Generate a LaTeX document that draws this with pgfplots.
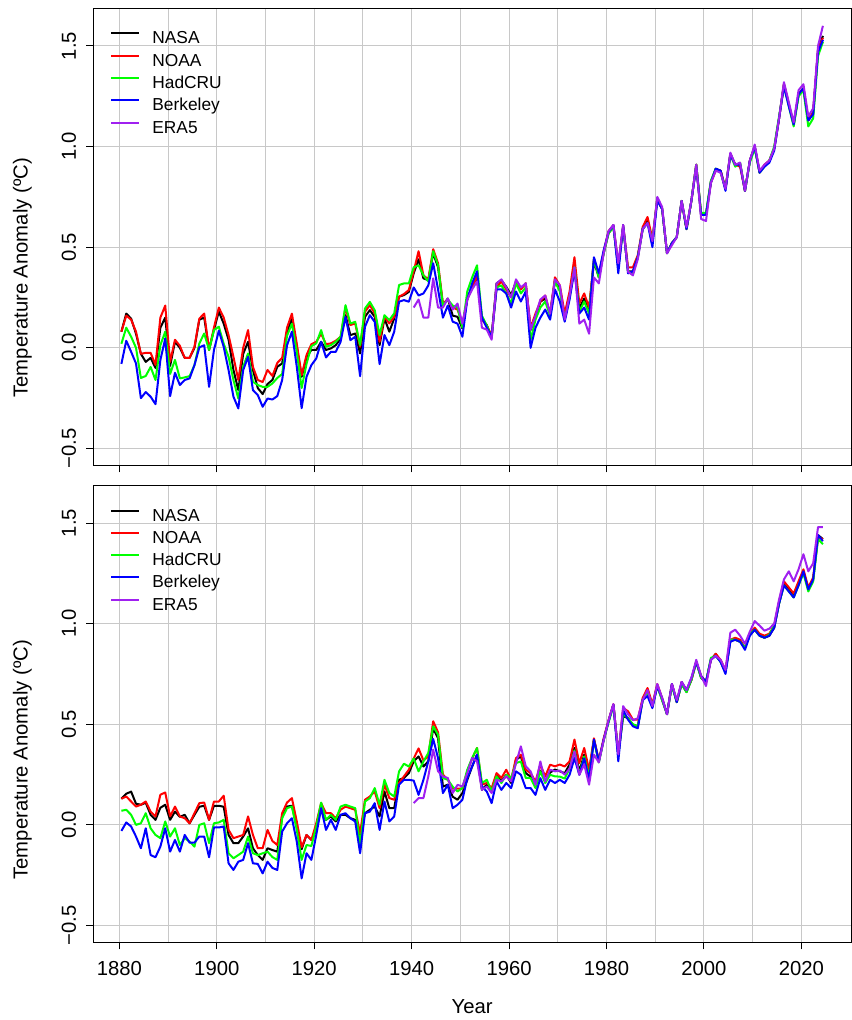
\documentclass[border=0pt]{standalone}
\usepackage{fontspec}
\setmainfont{Liberation Sans}
\usepackage{pgfplots}
\usepackage{pgfplotstable}
\pgfplotsset{compat=1.18}

\pgfplotstableread{
yr nasa noaa had berk era
1880 0.08 0.08 0.02 -0.08 nan
1881 0.17 0.16 0.10 0.035 nan
1882 0.145 0.14 0.055 -0.02 nan
1883 0.07 0.08 0.00 -0.078 nan
1884 -0.03 -0.03 -0.15 -0.25 nan
1885 -0.07 -0.025 -0.14 -0.22 nan
1886 -0.05 -0.025 -0.095 -0.243 nan
1887 -0.10 -0.085 -0.16 -0.28 nan
1888 0.10 0.15 0.013 -0.061 nan
1889 0.15 0.21 0.08 0.046 nan
1890 -0.09 -0.07 -0.13 -0.24 nan
1891 0.03 0.04 -0.06 -0.124 nan
1892 0.00 0.01 -0.152 -0.185 nan
1893 -0.05 -0.05 -0.147 -0.16 nan
1894 -0.05 -0.05 -0.141 -0.152 nan
1895 0.00 0.005 -0.086 -0.086 nan
1896 0.14 0.145 0.022 0.002 nan
1897 0.15 0.17 0.071 0.013 nan
1898 -0.01 -0.01 -0.011 -0.194 nan
1899 0.09 0.10 0.088 -0.011 nan
1900 0.18 0.20 0.105 0.085 nan
1901 0.12 0.15 0.02 0.005 nan
1902 0.04 0.063 -0.045 -0.111 nan
1903 -0.11 -0.045 -0.16 -0.243 nan
1904 -0.21 -0.16 -0.252 -0.301 nan
1905 -0.03 0.00 -0.094 -0.111 nan
1906 0.03 0.088 -0.028 -0.045 nan
1907 -0.11 -0.095 -0.169 -0.21 nan
1908 -0.20 -0.16 -0.185 -0.235 nan
1909 -0.23 -0.17 -0.194 -0.293 nan
1910 -0.18 -0.11 -0.194 -0.252 nan
1911 -0.16 -0.14 -0.177 -0.257 nan
1912 -0.094 -0.075 -0.15 -0.24 nan
1913 -0.078 -0.05 -0.13 -0.16 nan
1914 0.08 0.10 0.06 0.013 nan
1915 0.146 0.17 0.12 0.08 nan
1916 0.005 0.02 -0.02 -0.094 nan
1917 -0.144 -0.136 -0.20 -0.30 nan
1918 -0.05 -0.036 -0.08 -0.144 nan
1919 -0.01 0.018 0.008 -0.086 nan
1920 -0.011 0.03 0.022 -0.053 nan
1921 0.03 0.07 0.088 0.03 nan
1922 -0.011 0.018 0.005 -0.048 nan
1923 -0.003 0.022 0.013 -0.02 nan
1924 0.013 0.035 0.03 -0.02 nan
1925 0.046 0.055 0.055 0.03 nan
1926 0.162 0.20 0.212 0.154 nan
1927 0.063 0.113 0.121 0.038 nan
1928 0.071 0.121 0.129 0.055 nan
1929 -0.028 0.005 0.013 -0.141 nan
1930 0.154 0.179 0.195 0.104 nan
1931 0.187 0.212 0.228 0.162 nan
1932 0.154 0.171 0.187 0.129 nan
1933 0.013 0.03 0.063 -0.081 nan
1934 0.146 0.154 0.162 0.063 nan
1935 0.08 0.121 0.138 0.013 nan
1936 0.146 0.154 0.171 0.08 nan
1937 0.254 0.254 0.312 0.229 nan
1938 0.262 0.267 0.32 0.237 nan
1939 0.278 0.287 0.32 0.229 nan
1940 0.37 0.38 0.40 0.30 0.20
1941 0.44 0.48 0.41 0.26 0.24
1942 0.345 0.36 0.36 0.27 0.15
1943 0.336 0.34 0.33 0.31 0.15
1944 0.47 0.49 0.48 0.42 0.345
1945 0.40 0.42 0.41 0.29 0.20
1946 0.21 0.22 0.21 0.15 0.20
1947 0.245 0.24 0.24 0.21 0.245
1948 0.16 0.20 0.21 0.13 0.19
1949 0.154 0.19 0.20 0.12 0.22
1950 0.096 0.12 0.10 0.055 0.12
1951 0.245 0.24 0.28 0.24 0.24
1952 0.303 0.30 0.35 0.32 0.29
1953 0.353 0.36 0.41 0.38 0.33
1954 0.146 0.14 0.16 0.15 0.10
1955 0.113 0.11 0.11 0.10 0.09
1956 0.055 0.06 0.05 0.055 0.04
1957 0.32 0.30 0.30 0.29 0.32
1958 0.336 0.33 0.31 0.29 0.34
1959 0.303 0.29 0.27 0.27 0.30
1960 0.262 0.25 0.22 0.20 0.25
1961 0.328 0.33 0.32 0.28 0.34
1962 0.295 0.29 0.27 0.23 0.30
1963 0.32 0.32 0.30 0.28 0.32
1964 0.088 0.10 0.04 0.00 0.09
1965 0.154 0.17 0.14 0.10 0.16
1966 0.229 0.23 0.20 0.15 0.24
1967 0.245 0.26 0.23 0.19 0.26
1968 0.171 0.17 0.16 0.14 0.17
1969 0.336 0.35 0.33 0.29 0.34
1970 0.295 0.31 0.28 0.23 0.31
1971 0.15 0.17 0.14 0.13 0.14
1972 0.26 0.28 0.25 0.24 0.26
1973 0.40 0.45 0.40 0.386 0.40
1974 0.196 0.22 0.18 0.17 0.12
1975 0.245 0.27 0.23 0.20 0.14
1976 0.187 0.20 0.17 0.14 0.07
1977 0.43 0.44 0.44 0.45 0.35
1978 0.35 0.36 0.35 0.37 0.32
1979 0.47 0.48 0.47 0.485 0.47
1980 0.57 0.58 0.57 0.576 0.58
1981 0.60 0.61 0.60 0.61 0.61
1982 0.40 0.41 0.40 0.37 0.42
1983 0.60 0.61 0.60 0.61 0.61
1984 0.38 0.40 0.38 0.37 0.378
1985 0.38 0.40 0.37 0.38 0.36
1986 0.45 0.46 0.45 0.45 0.44
1987 0.59 0.60 0.59 0.59 0.59
1988 0.63 0.65 0.62 0.62 0.62
1989 0.53 0.54 0.53 0.50 0.53
1990 0.74 0.74 0.74 0.73 0.75
1991 0.69 0.69 0.69 0.69 0.70
1992 0.47 0.47 0.47 0.47 0.47
1993 0.52 0.52 0.52 0.52 0.51
1994 0.55 0.55 0.55 0.55 0.55
1995 0.73 0.73 0.73 0.73 0.73
1996 0.59 0.59 0.59 0.59 0.60
1997 0.73 0.73 0.73 0.73 0.73
1998 0.91 0.91 0.91 0.90 0.91
1999 0.66 0.66 0.67 0.66 0.64
2000 0.66 0.66 0.67 0.66 0.63
2001 0.825 0.82 0.83 0.82 0.82
2002 0.89 0.88 0.89 0.89 0.88
2003 0.88 0.88 0.87 0.88 0.87
2004 0.79 0.79 0.79 0.78 0.79
2005 0.965 0.96 0.96 0.96 0.97
2006 0.91 0.91 0.90 0.91 0.91
2007 0.915 0.90 0.92 0.91 0.92
2008 0.78 0.78 0.78 0.78 0.78
2009 0.93 0.93 0.92 0.93 0.93
2010 1.00 1.00 0.99 1.00 1.01
2011 0.875 0.87 0.87 0.87 0.88
2012 0.905 0.91 0.90 0.90 0.91
2013 0.93 0.93 0.93 0.92 0.93
2014 0.99 0.99 1.00 0.98 0.99
2015 1.14 1.14 1.15 1.14 1.14
2016 1.31 1.31 1.30 1.30 1.32
2017 1.21 1.21 1.20 1.20 1.22
2018 1.11 1.11 1.10 1.11 1.12
2019 1.26 1.26 1.25 1.26 1.28
2020 1.29 1.29 1.28 1.29 1.31
2021 1.13 1.13 1.10 1.13 1.15
2022 1.17 1.17 1.14 1.16 1.19
2023 1.48 1.48 1.45 1.47 1.50
2024 1.55 1.54 1.52 1.53 1.60
}\toptable

\pgfplotstableread{
yr nasa noaa had berk era
1880 0.13 0.13 0.07 -0.03 nan
1881 0.155 0.141 0.075 0.012 nan
1882 0.165 0.116 0.05 -0.008 nan
1883 0.105 0.091 0.00 -0.058 nan
1884 0.10 0.10 0.008 -0.116 nan
1885 0.11 0.116 0.058 -0.017 nan
1886 0.05 0.066 -0.017 -0.15 nan
1887 0.025 0.042 -0.05 -0.161 nan
1888 0.085 0.15 -0.066 -0.108 nan
1889 0.10 0.161 0.017 -0.017 nan
1890 0.025 0.042 -0.058 -0.133 nan
1891 0.066 0.091 -0.017 -0.075 nan
1892 0.04 0.042 -0.10 -0.133 nan
1893 0.05 0.033 -0.066 -0.05 nan
1894 0.008 0.008 -0.083 -0.088 nan
1895 0.05 0.058 -0.108 -0.088 nan
1896 0.09 0.108 0.0 -0.058 nan
1897 0.095 0.111 0.008 -0.058 nan
1898 0.025 0.025 -0.091 -0.161 nan
1899 0.095 0.116 0.008 -0.013 nan
1900 0.095 0.116 0.012 -0.013 nan
1901 0.09 0.145 0.025 -0.008 nan
1902 -0.05 -0.025 -0.141 -0.191 nan
1903 -0.091 -0.066 -0.166 -0.224 nan
1904 -0.091 -0.058 -0.15 -0.183 nan
1905 -0.058 -0.05 -0.133 -0.174 nan
1906 -0.017 0.042 -0.058 -0.091 nan
1907 -0.116 -0.05 -0.141 -0.191 nan
1908 -0.15 -0.116 -0.15 -0.194 nan
1909 -0.174 -0.116 -0.141 -0.241 nan
1910 -0.116 -0.025 -0.133 -0.183 nan
1911 -0.125 -0.08 -0.16 -0.214 nan
1912 -0.133 -0.10 -0.174 -0.224 nan
1913 0.042 0.058 0.033 -0.033 nan
1914 0.091 0.111 0.083 0.008 nan
1915 0.095 0.133 0.091 0.033 nan
1916 -0.008 0.017 -0.025 -0.083 nan
1917 -0.121 -0.111 -0.174 -0.266 nan
1918 -0.05 -0.05 -0.10 -0.141 nan
1919 -0.075 -0.075 -0.105 -0.174 nan
1920 -0.025 0.008 -0.008 -0.05 nan
1921 0.083 0.108 0.111 0.083 nan
1922 0.025 0.058 0.025 -0.025 nan
1923 0.042 0.058 0.05 0.025 nan
1924 0.017 0.033 0.025 -0.025 nan
1925 0.05 0.075 0.091 0.05 nan
1926 0.05 0.091 0.10 0.058 nan
1927 0.033 0.083 0.091 0.033 nan
1928 0.025 0.075 0.083 0.017 nan
1929 -0.058 -0.042 -0.10 -0.141 nan
1930 0.058 0.125 0.116 0.058 nan
1931 0.075 0.141 0.133 0.066 nan
1932 0.091 0.166 0.183 0.108 nan
1933 0.042 0.083 0.10 -0.025 nan
1934 0.166 0.20 0.224 0.116 nan
1935 0.083 0.133 0.158 0.017 nan
1936 0.083 0.125 0.141 0.042 nan
1937 0.224 0.208 0.266 0.20 nan
1938 0.233 0.241 0.304 0.224 nan
1939 0.257 0.274 0.29 0.224 nan
1940 0.316 0.33 0.33 0.22 0.108
1941 0.34 0.38 0.266 0.149 0.133
1942 0.29 0.32 0.315 0.224 0.133
1943 0.316 0.34 0.357 0.316 0.241
1944 0.48 0.515 0.49 0.427 0.374
1945 0.43 0.46 0.448 0.332 0.266
1946 0.19 0.25 0.233 0.158 0.241
1947 0.20 0.225 0.224 0.199 0.233
1948 0.14 0.18 0.19 0.083 0.158
1949 0.125 0.18 0.166 0.10 0.199
1950 0.158 0.18 0.183 0.125 0.191
1951 0.224 0.266 0.274 0.232 0.257
1952 0.29 0.33 0.332 0.291 0.332
1953 0.349 0.382 0.382 0.349 0.316
1954 0.174 0.20 0.208 0.191 0.174
1955 0.20 0.208 0.224 0.166 0.191
1956 0.166 0.183 0.166 0.108 0.158
1957 0.249 0.257 0.241 0.216 0.224
1958 0.216 0.233 0.208 0.174 0.216
1959 0.249 0.274 0.249 0.208 0.241
1960 0.208 0.224 0.233 0.183 0.216
1961 0.324 0.332 0.307 0.266 0.307
1962 0.34 0.349 0.315 0.249 0.39
1963 0.257 0.274 0.233 0.183 0.291
1964 0.24 0.257 0.233 0.183 0.266
1965 0.20 0.216 0.183 0.149 0.199
1966 0.27 0.299 0.266 0.232 0.315
1967 0.22 0.241 0.208 0.174 0.216
1968 0.26 0.299 0.249 0.224 0.274
1969 0.275 0.291 0.241 0.208 0.266
1970 0.266 0.30 0.24 0.224 0.27
1971 0.257 0.29 0.23 0.208 0.25
1972 0.30 0.316 0.28 0.249 0.28
1973 0.382 0.424 0.37 0.332 0.365
1974 0.266 0.307 0.25 0.249 0.249
1975 0.349 0.382 0.34 0.33 0.30
1976 0.257 0.274 0.24 0.224 0.20
1977 0.424 0.43 0.42 0.424 0.349
1978 0.316 0.32 0.31 0.316 0.31
1979 0.424 0.43 0.42 0.424 0.42
1980 0.515 0.52 0.51 0.515 0.52
1981 0.598 0.60 0.59 0.598 0.60
1982 0.349 0.35 0.35 0.316 0.35
1983 0.54 0.58 0.55 0.57 0.59
1984 0.53 0.565 0.53 0.523 0.55
1985 0.498 0.523 0.50 0.49 0.52
1986 0.49 0.523 0.49 0.48 0.53
1987 0.62 0.63 0.62 0.62 0.62
1988 0.67 0.68 0.66 0.64 0.67
1989 0.59 0.60 0.59 0.58 0.59
1990 0.69 0.70 0.69 0.69 0.70
1991 0.62 0.63 0.62 0.63 0.63
1992 0.55 0.55 0.55 0.55 0.55
1993 0.70 0.70 0.69 0.70 0.70
1994 0.61 0.61 0.61 0.61 0.62
1995 0.70 0.71 0.70 0.71 0.71
1996 0.66 0.67 0.66 0.67 0.67
1997 0.72 0.72 0.72 0.73 0.73
1998 0.81 0.81 0.81 0.81 0.82
1999 0.73 0.74 0.73 0.74 0.74
2000 0.71 0.71 0.71 0.71 0.69
2001 0.82 0.82 0.83 0.82 0.82
2002 0.85 0.85 0.84 0.84 0.84
2003 0.81 0.82 0.81 0.81 0.82
2004 0.76 0.77 0.76 0.75 0.77
2005 0.915 0.92 0.92 0.91 0.955
2006 0.92 0.93 0.92 0.92 0.97
2007 0.91 0.92 0.91 0.91 0.94
2008 0.88 0.88 0.88 0.87 0.90
2009 0.945 0.95 0.95 0.94 0.96
2010 0.97 0.98 0.97 0.97 1.013
2011 0.94 0.95 0.94 0.94 0.99
2012 0.93 0.94 0.93 0.93 0.965
2013 0.94 0.95 0.945 0.94 0.975
2014 0.98 0.99 0.99 0.98 1.00
2015 1.10 1.11 1.10 1.10 1.12
2016 1.196 1.21 1.19 1.19 1.22
2017 1.17 1.18 1.16 1.16 1.26
2018 1.14 1.15 1.13 1.13 1.21
2019 1.196 1.21 1.19 1.19 1.27
2020 1.26 1.27 1.25 1.26 1.345
2021 1.17 1.18 1.16 1.17 1.26
2022 1.22 1.23 1.21 1.22 1.30
2023 1.44 1.43 1.42 1.44 1.48
2024 1.42 1.42 1.395 1.41 1.48
}\bottable

\definecolor{rred}{RGB}{255,0,0}
\definecolor{rgreen}{RGB}{0,255,0}
\definecolor{rblue}{RGB}{0,0,255}
\definecolor{rpurple}{RGB}{160,32,240}
\definecolor{gridgray}{RGB}{200,200,200}

\pgfplotsset{
  tempaxis/.style={
    scale only axis, width=568.3pt, height=342.3pt,
    xmin=1874.66, xmax=2030.2, ymin=-0.584, ymax=1.684,
    xtick={1880,1900,...,2020},
    minor xtick={1890,1910,...,2010},
    ytick={-0.5,0,0.5,1,1.5},
    yticklabels={−0.5,0.0,0.5,1.0,1.5},
    tick align=outside, tick pos=left,
    major tick length=5.3pt, minor tick length=0pt,
    grid=both,
    major grid style={draw=gridgray, line width=0.75pt},
    minor grid style={draw=gridgray, line width=0.75pt},
    axis line style={line width=0.75pt, black},
    every tick/.style={black, line width=0.75pt},
    ticklabel style={font=\fontsize{15.2}{17}\selectfont},
    yticklabel style={rotate=90, anchor=south, inner sep=0pt, yshift=7.5pt},
    xticklabel style={anchor=north, inner sep=0pt, yshift=-8.5pt},
    label style={font=\fontsize{15.2}{17}\selectfont},
    ylabel={Temperature Anomaly (ºC)},
    legend cell align=left,
    legend image code/.code={\draw[#1, line width=1.5pt] (0pt,4.6pt) -- (21pt,4.6pt); \path (30pt,0pt);},
    legend style={draw=none, fill=none, at={(axis description cs:0.0225,0.951)}, anchor=north west,
      inner sep=0pt, outer sep=0pt, font=\fontsize{13}{15}\selectfont, row sep=4.2pt,
      nodes={inner sep=0pt, text height=9.5pt, text depth=3pt}},
    every axis plot/.append style={line width=1.5pt, line join=round},
  }
}

\begin{document}
\begin{tikzpicture}
\useasboundingbox (0pt,0pt) rectangle (639pt,765pt);
\begin{axis}[tempaxis, at={(70pt,416pt)}, anchor=south west, xticklabels={},
  ylabel style={at={(axis description cs:-0.0937,0.411)}, anchor=center}]
\addplot[black] table[x expr=\thisrow{yr}+0.42, y=nasa] {\toptable};
\addplot[rred] table[x expr=\thisrow{yr}+0.42, y=noaa] {\toptable};
\addplot[rgreen] table[x expr=\thisrow{yr}+0.42, y=had] {\toptable};
\addplot[rblue] table[x expr=\thisrow{yr}+0.42, y=berk] {\toptable};
\addplot[rpurple] table[x expr=\thisrow{yr}+0.42, y=era] {\toptable};
\legend{NASA,NOAA,HadCRU,Berkeley,ERA5}
\end{axis}
\begin{axis}[tempaxis, at={(70pt,58.2pt)}, anchor=south west,
  ylabel style={at={(axis description cs:-0.0937,0.40)}, anchor=center},
  xticklabels={1880,1900,1920,1940,1960,1980,2000,2020},
  xlabel={Year}, xlabel style={at={(axis description cs:0.5,-0.1417)}, anchor=center}]
\addplot[black] table[x expr=\thisrow{yr}+0.42, y=nasa] {\bottable};
\addplot[rred] table[x expr=\thisrow{yr}+0.42, y=noaa] {\bottable};
\addplot[rgreen] table[x expr=\thisrow{yr}+0.42, y=had] {\bottable};
\addplot[rblue] table[x expr=\thisrow{yr}+0.42, y=berk] {\bottable};
\addplot[rpurple] table[x expr=\thisrow{yr}+0.42, y=era] {\bottable};
\legend{NASA,NOAA,HadCRU,Berkeley,ERA5}
\end{axis}
\end{tikzpicture}
\end{document}
